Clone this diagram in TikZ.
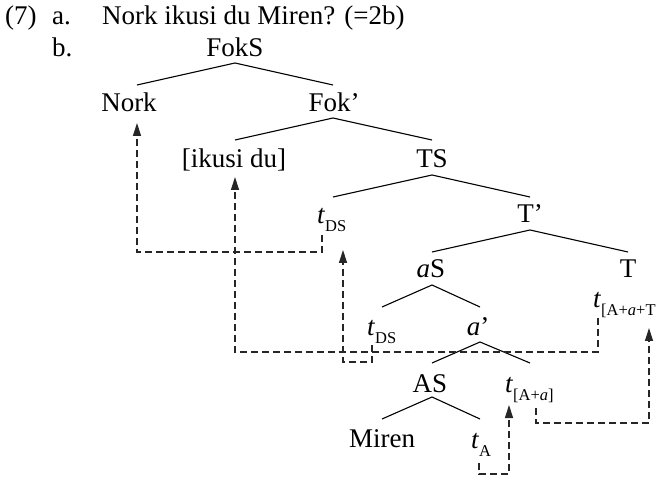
\documentclass[tikz,border=0pt]{standalone}
\usepackage{fontspec}
\setmainfont{Liberation Serif}
\usetikzlibrary{arrows.meta,calc}
\newcommand{\tsb}[1]{\textit{t}\raisebox{-8pt}{\fontsize{16.5}{17}\selectfont #1}}
\tikzset{
  lbl/.style={inner sep=0pt, anchor=base},
  lblw/.style={inner sep=0pt, anchor=base west},
  branch/.style={line width=1.1pt, black},
  mv/.style={line width=1.2pt, black!85, dash pattern=on 7pt off 4pt, -{Triangle[width=8pt,length=13pt]}}
}
\begin{document}
\begin{tikzpicture}[x=1pt,y=-1pt,font=\fontsize{27}{31}\selectfont]
\useasboundingbox (0,0) rectangle (656,478);
% header
\node[lblw] (ex) at (5,25) {(7)};
\node[lblw] (la) at (52,25) {a.};
\node[lblw] (sent) at (102,25) {Nork ikusi du Miren? (=2b)};
\node[lblw] (lb) at (52,57) {b.};
% tree nodes
\node[lbl] (FokS) at (235,57) {FokS};
\node[lbl] (Nork) at (129,112) {Nork};
\node[lbl] (Fokp) at (334,112) {Fok’};
\node[lbl] (ikusi) at (234,168) {[ikusi du]};
\node[lbl] (TS) at (432,168) {TS};
\node[lblw] (tDSa) at (317,224) {\tsb{DS}};
\node[lbl] (Tp) at (530,223) {T’};
\node[lbl] (aS) at (431,278) {\textit{a}S};
\node[lbl] (T) at (628,278) {T};
\node[lblw] (tAaT) at (593,308) {\tsb{[A+\textit{a}+T}};
\node[lblw] (tDSb) at (367,335) {\tsb{DS}};
\node[lbl] (ap) at (478,335) {\textit{a}’};
\node[lbl] (AS) at (430,392) {AS};
\node[lblw] (tAa) at (505,392) {\tsb{[A+\textit{a}]}};
\node[lbl] (Miren) at (382,447) {Miren};
\node[lblw] (tA) at (471,448) {\tsb{A}};
% branch points
\coordinate (FokSb) at (235,63);
\coordinate (Norkt) at (137,85);
\coordinate (Fokpt) at (333,85);
\coordinate (Fokpb) at (333,118);
\coordinate (ikusit) at (235,140);
\coordinate (TSt) at (432,140);
\coordinate (TSb) at (432,175);
\coordinate (tDSat) at (333,197);
\coordinate (Tpt) at (530,197);
\coordinate (Tpb) at (530,230);
\coordinate (aSt) at (432,252);
\coordinate (Tt) at (628,252);
\coordinate (aSb) at (432,285);
\coordinate (tDSbt) at (382,307);
\coordinate (apt) at (480,307);
\coordinate (apb) at (480,342);
\coordinate (ASt) at (432,363);
\coordinate (tAat) at (530,363);
\coordinate (ASb) at (432,397);
\coordinate (Merent) at (382,419);
\coordinate (tAt) at (480,419);
\draw[branch] (Norkt) -- (FokSb) -- (Fokpt);
\draw[branch] (ikusit) -- (Fokpb) -- (TSt);
\draw[branch] (tDSat) -- (TSb) -- (Tpt);
\draw[branch] (aSt) -- (Tpb) -- (Tt);
\draw[branch] (tDSbt) -- (aSb) -- (apt);
\draw[branch] (ASt) -- (apb) -- (tAat);
\draw[branch] (Merent) -- (ASb) -- (tAt);
% movement arrows
\draw[mv] ($(tDSa.base west)+(5,11)$) -- ++(0,17) -| ($(Nork.base)+(8,11)$);
\draw[mv] ($(tDSb.base west)+(5,10)$) -- ++(0,17) -| ($(tDSa.base west)+(26,26)$);
\draw[mv] ($(tAaT.base west)+(5,10)$) -- ++(0,34) -| ($(ikusi.base)+(1,9)$);
\draw[mv] ($(tAa.base west)+(31,16)$) -- ++(0,15) -| ($(tAaT.base west)+(56,20)$);
\draw[mv] ($(tA.base west)+(8,15)$) -- ++(0,11) -| ($(tAa.base west)+(4,13)$);
\end{tikzpicture}
\end{document}
